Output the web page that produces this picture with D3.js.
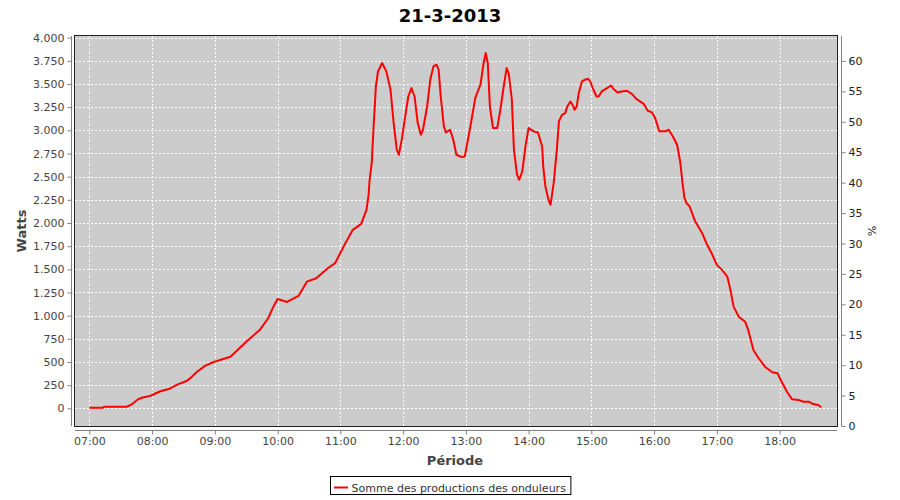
<!DOCTYPE html>
<html><head><meta charset="utf-8">
<script src="https://cdn.jsdelivr.net/npm/d3@7"></script>
<style>body{margin:0;background:#fff}svg{display:block}text{font-family:"DejaVu Sans",sans-serif}</style>
</head><body><svg id="c" width="900" height="500"></svg>
<script>
const title = "21-3-2013";
const seriesName = "Somme des productions des onduleurs";
const times = ["07:00","07:13","07:14","07:36","07:41","07:47","07:52","07:58","08:08","08:16",
"08:24","08:33","08:36","08:43","08:51","08:59","09:08","09:15","09:21","09:30",
"09:43","09:51","09:56","10:00","10:09","10:20","10:28","10:37","10:48","10:55",
"11:04","11:12","11:20","11:25","11:27","11:28","11:30","11:32","11:34","11:36",
"11:40","11:44","11:48","11:51","11:54","11:56","11:59","12:02","12:05","12:08",
"12:11","12:14","12:17","12:19","12:23","12:26","12:29","12:32","12:34","12:36",
"12:39","12:41","12:45","12:48","12:51","12:56","12:59","13:02","13:06","13:09",
"13:12","13:14","13:17","13:19","13:21","13:23","13:26","13:30","13:33","13:36",
"13:39","13:41","13:44","13:46","13:49","13:51","13:54","13:57","14:00","14:05",
"14:09","14:13","14:14","14:16","14:19","14:21","14:24","14:27","14:29","14:32",
"14:35","14:37","14:40","14:42","14:44","14:46","14:48","14:51","14:54","14:57",
"14:59","15:02","15:05","15:07","15:10","15:15","15:19","15:21","15:25","15:29",
"15:34","15:39","15:43","15:50","15:54","15:58","16:01","16:05","16:11","16:14",
"16:18","16:22","16:25","16:27","16:29","16:31","16:34","16:39","16:46","16:50",
"16:55","17:00","17:05","17:10","17:13","17:16","17:21","17:27","17:30","17:35",
"17:40","17:46","17:53","17:58","18:02","18:07","18:12","18:18","18:23","18:28",
"18:32","18:37","18:40"];
const watts = [5,5,17,17,46,100,119,133,184,208,
255,295,320,395,460,500,532,557,622,719,
846,972,1097,1180,1148,1213,1367,1404,1512,1566,
1764,1926,1990,2142,2300,2466,2646,3078,3473,3635,
3726,3635,3438,3078,2790,2736,2916,3149,3365,3456,
3365,3078,2952,3006,3257,3546,3690,3708,3654,3365,
3042,2977,3006,2898,2736,2711,2717,2898,3149,3348,
3438,3492,3726,3834,3726,3257,3024,3024,3222,3456,
3672,3618,3330,2790,2520,2466,2556,2826,3024,2988,
2977,2826,2610,2400,2250,2196,2430,2790,3096,3168,
3186,3257,3311,3276,3222,3257,3402,3527,3546,3556,
3527,3438,3365,3365,3420,3456,3484,3449,3408,3420,
3427,3391,3340,3286,3211,3193,3132,2990,2990,3006,
2934,2844,2660,2450,2270,2214,2178,2025,1890,1782,
1674,1548,1494,1421,1278,1097,989,935,846,630,
540,449,389,378,287,179,97,90,71,71,
46,36,11];
const xTickLabels = ["07:00","08:00","09:00","10:00","11:00","12:00","13:00","14:00","15:00","16:00","17:00","18:00"];
const yTicks = [0,250,500,750,1000,1250,1500,1750,2000,2250,2500,2750,3000,3250,3500,3750,4000];
const pctTicks = [0,5,10,15,20,25,30,35,40,45,50,55,60];

const toMin = s => { const [h,m] = s.split(":").map(Number); return h*60+m; };
const data = times.map((t,i)=>({t:toMin(t), v:watts[i]}));

const svg = d3.select("#c");
const L=75, R=837, T=36, B=426;
const x = d3.scaleLinear().domain([406.3, 1134.9]).range([L,R]);
const y = d3.scaleLinear().domain([-191, 4018]).range([B,T]);
const yR = d3.scaleLinear().domain([0, 64.1]).range([B,T]);
const fmt = d3.format(",");
const fmtDot = v => fmt(v).replace(/,/g,".");

// title
svg.append("text").attr("x",450).attr("y",22).attr("text-anchor","middle")
  .style("font-size","18px").style("font-weight","bold").attr("fill","#000").text(title);

// plot background
svg.append("rect").attr("x",L).attr("y",T).attr("width",R-L).attr("height",B-T).attr("fill","#cccccc");

// grid
const g = svg.append("g");
g.selectAll(".hg").data(yTicks).join("line")
  .attr("x1",L).attr("x2",R).attr("y1",d=>Math.round(y(d))+0.5).attr("y2",d=>Math.round(y(d))+0.5)
  .attr("stroke","#fff").attr("stroke-dasharray","2,2");
g.selectAll(".vg").data(xTickLabels).join("line")
  .attr("y1",T).attr("y2",B).attr("x1",d=>Math.round(x(toMin(d)))+0.5).attr("x2",d=>Math.round(x(toMin(d)))+0.5)
  .attr("stroke","#fff").attr("stroke-dasharray","2,2");

// line
const line = d3.line().x(d=>x(d.t)).y(d=>y(d.v));
svg.append("path").datum(data).attr("d",line).attr("fill","none")
  .attr("stroke","#ff0000").attr("stroke-width",2).attr("stroke-linejoin","round");

// outline
svg.append("rect").attr("x",L-0.5).attr("y",T-0.5).attr("width",R-L+1).attr("height",B-T+1)
  .attr("fill","none").attr("stroke","#222");

// left axis
const ya = svg.append("g").attr("transform","translate(71.5,0)")
  .call(d3.axisLeft(y).tickValues(yTicks).tickFormat(fmtDot).tickSize(4).tickSizeOuter(0));
ya.select(".domain").attr("stroke","#808080").attr("d",`M0,${T}V${B}`);
ya.selectAll(".tick line").attr("stroke","#808080");
ya.selectAll(".tick text").attr("fill","#444").style("font-size","11px").style("font-family","DejaVu Sans");

// right axis
const yr = svg.append("g").attr("transform","translate(841.5,0)")
  .call(d3.axisRight(yR).tickValues(pctTicks).tickSize(4).tickSizeOuter(0));
yr.select(".domain").attr("stroke","#808080").attr("d",`M0,${T}V${B}`);
yr.selectAll(".tick line").attr("stroke","#808080");
yr.selectAll(".tick text").attr("fill","#222").style("font-size","11px").style("font-family","DejaVu Sans");

// bottom axis
const xa = svg.append("g").attr("transform","translate(0,430.5)")
  .call(d3.axisBottom(x).tickValues(xTickLabels.map(toMin)).tickFormat((d,i)=>xTickLabels[i]).tickSize(4).tickSizeOuter(0));
xa.select(".domain").attr("stroke","#808080").attr("d",`M${L},0H${R}`);
xa.selectAll(".tick line").attr("stroke","#808080");
xa.selectAll(".tick text").attr("fill","#444").style("font-size","11px").style("font-family","DejaVu Sans");

// axis labels
svg.append("text").attr("transform","translate(26,231) rotate(-90)").attr("text-anchor","middle")
  .style("font-size","13px").style("font-weight","bold").attr("fill","#444").text("Watts");
svg.append("text").attr("x",455).attr("y",465).attr("text-anchor","middle")
  .style("font-size","13px").style("font-weight","bold").attr("fill","#444").text("Période");
svg.append("text").attr("transform","translate(868,231) rotate(90)").attr("text-anchor","middle")
  .style("font-size","11px").attr("fill","#222").text("%");

// legend
const lg = svg.append("g");
const lt = lg.append("text").attr("x",353).attr("y",491.5).style("font-size","11px").attr("fill","#333").text(seriesName);
const tw = lt.node().getComputedTextLength();
const boxW = tw + 26;
const bx = Math.round(450 - boxW/2) + 0.5;
lt.attr("x", bx + 21);
lg.insert("rect","text").attr("x",bx).attr("y",476.5).attr("width",boxW).attr("height",18)
  .attr("fill","#fff").attr("stroke","#000");
lg.append("line").attr("x1",bx+3.5).attr("x2",bx+17.5).attr("y1",487.5).attr("y2",487.5)
  .attr("stroke","#ff0000").attr("stroke-width",2);
</script></body></html>
